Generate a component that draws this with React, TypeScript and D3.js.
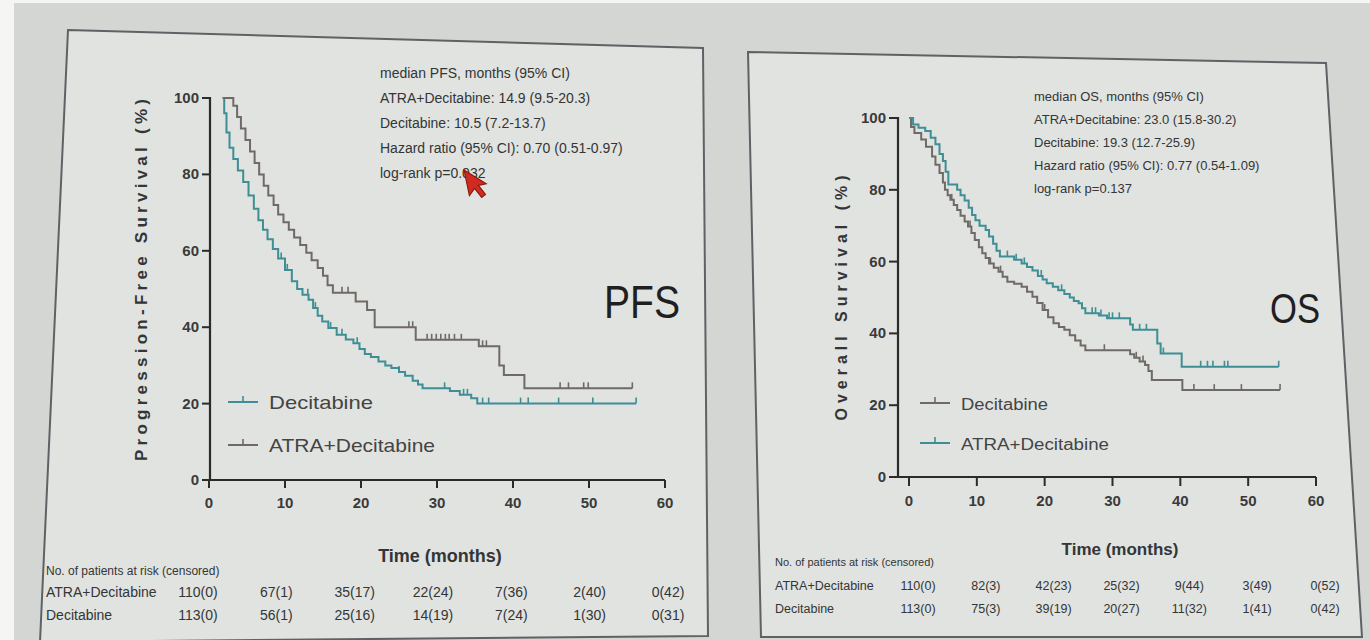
import React from 'react';
import * as d3 from 'd3';

type Step = [number, number];

const FONT = "'Liberation Sans', Arial, Helvetica, sans-serif";
const INK = '#333536';
const TEAL = '#3d8e95';
const GREY = '#6f6a67';

// Shared axis ticks
const timeTicks = [0, 10, 20, 30, 40, 50, 60];
const survTicks = [0, 20, 40, 60, 80, 100];

// ---- Progression-free survival: [month, % progression-free] at each step ----
const pfsAtraSteps: Step[] = [
  [1.8, 100], [3.2, 98], [3.7, 95], [4.2, 92], [4.8, 89], [5.4, 86], [6.0, 83],
  [6.6, 80], [7.2, 77], [7.8, 74.5], [8.5, 72], [9.1, 69.5], [9.8, 67.5],
  [10.5, 65.5], [11.2, 63.5], [12.0, 61.5], [12.8, 59.5], [13.5, 57.5],
  [14.3, 55.5], [15.0, 53.5], [15.6, 51], [16.3, 49], [19.3, 46.7], [20.8, 44.5],
  [21.8, 40], [27.2, 36.7], [35.5, 35], [38.2, 30], [38.8, 27.5], [41.5, 24],
];
const pfsAtraEnd = 55.7;
const pfsAtraCensored = [17.5, 18.3, 26.3, 26.8, 28.7, 29.3, 29.9, 30.5, 31.1, 31.6, 32.3, 33.2, 36.0, 36.5, 46.2, 47.3, 49.3, 49.9, 55.7];

const pfsDecSteps: Step[] = [
  [1.8, 100], [2.0, 96], [2.3, 91], [2.7, 87], [3.2, 84], [3.8, 81], [4.5, 78],
  [5.2, 74.5], [5.9, 71], [6.5, 68], [7.1, 65.5], [7.7, 63], [8.4, 60.5], [9.1, 58],
  [10.0, 55], [10.9, 52], [11.6, 50], [12.3, 48.5], [13.1, 47.2], [13.7, 45],
  [14.3, 43], [14.9, 41.5], [15.7, 39.8], [16.8, 38], [18.0, 36.8], [19.0, 35.8],
  [19.8, 34.3], [20.5, 33], [21.3, 32.2], [22.3, 31], [23.2, 30], [24.0, 29.3],
  [25.0, 28.3], [25.8, 27.3], [26.8, 26], [27.5, 25], [28.1, 24], [31.7, 23.3],
  [33.0, 22.3], [34.5, 21.4], [35.3, 20],
];
const pfsDecEnd = 56.2;
const pfsDecCensored = [9.5, 10.3, 13.0, 14.0, 16.0, 17.5, 19.5, 25.0, 31.0, 33.5, 34.0, 36.0, 36.8, 41.0, 42.0, 46.0, 50.5, 56.2];

// ---- Overall survival: [month, % alive] at each step ----
const osAtraSteps: Step[] = [
  [0, 100], [0.6, 98.2], [1.4, 97.3], [2.4, 96.4], [3.2, 94.5], [3.9, 92.7],
  [4.5, 90], [5.0, 88], [5.4, 85], [5.8, 81.5], [7.1, 80], [7.6, 78.5], [8.2, 77],
  [8.8, 75], [9.3, 73], [9.8, 71.5], [10.4, 70], [11.3, 68.8], [11.8, 67],
  [12.4, 65], [12.9, 63], [13.4, 61.4], [15.5, 60.5], [16.6, 59.5], [17.4, 58.5],
  [18.2, 57.5], [19.0, 56], [19.7, 55], [20.3, 54], [21.2, 53], [22.0, 52],
  [22.9, 51], [23.7, 50], [24.3, 49], [25.0, 48.4], [25.5, 47], [26.0, 45.6],
  [28.0, 45], [29.2, 44.2], [32.6, 42.5], [33.0, 41], [36.6, 37.2], [37.1, 34.4],
  [40.2, 30.7],
];
const osAtraEnd = 54.5;
const osAtraCensored = [14.5, 15.8, 17.0, 19.5, 22.5, 27.0, 27.5, 28.3, 29.5, 30.0, 31.0, 34.0, 35.0, 37.5, 43.0, 44.0, 44.8, 46.5, 47.0, 54.5];

const osDecSteps: Step[] = [
  [0, 100], [0.3, 97.5], [0.8, 95.8], [1.8, 94], [2.5, 92], [3.4, 89.3], [3.9, 87],
  [4.5, 84.7], [5.0, 82], [5.3, 80], [5.7, 78.5], [6.1, 77.2], [6.6, 75.8],
  [7.1, 74.4], [7.6, 72.8], [8.2, 71.2], [8.7, 69.8], [9.2, 68], [9.7, 66],
  [10.3, 64], [10.8, 62.3], [11.3, 61], [11.8, 59.5], [12.5, 58.3], [13.2, 57.2],
  [13.8, 55.8], [14.5, 54.4], [15.5, 53.8], [16.6, 53], [17.4, 51.6], [18.2, 50.2],
  [18.9, 48.5], [19.7, 46.5], [20.5, 44.5], [21.3, 42.8], [22.1, 41.8], [22.9, 41],
  [23.7, 39.5], [24.5, 38], [25.3, 36.6], [26.0, 35.3], [32.6, 34.2], [33.2, 33.2],
  [34.0, 32.2], [34.8, 31.2], [35.3, 29.5], [35.8, 27], [40.3, 24.2],
];
const osDecEnd = 54.7;
const osDecCensored = [6.3, 9.0, 12.0, 13.5, 20.0, 28.8, 33.5, 34.5, 42.0, 45.0, 49.0, 54.7];

// ---- Annotations ----
const pfsNotes = [
  'median PFS, months (95% CI)',
  'ATRA+Decitabine: 14.9 (9.5-20.3)',
  'Decitabine: 10.5 (7.2-13.7)',
  'Hazard ratio (95% CI): 0.70 (0.51-0.97)',
  'log-rank p=0.032',
];
const osNotes = [
  'median OS, months (95% CI)',
  'ATRA+Decitabine: 23.0 (15.8-30.2)',
  'Decitabine: 19.3 (12.7-25.9)',
  'Hazard ratio (95% CI): 0.77 (0.54-1.09)',
  'log-rank p=0.137',
];

// ---- Numbers at risk (censored) at 0, 10, ... 60 months ----
const riskTitle = 'No. of patients at risk (censored)';
const pfsRiskAtra = ['110(0)', '67(1)', '35(17)', '22(24)', '7(36)', '2(40)', '0(42)'];
const pfsRiskDec = ['113(0)', '56(1)', '25(16)', '14(19)', '7(24)', '1(30)', '0(31)'];
const osRiskAtra = ['110(0)', '82(3)', '42(23)', '25(32)', '9(44)', '3(49)', '0(52)'];
const osRiskDec = ['113(0)', '75(3)', '39(19)', '20(27)', '11(32)', '1(41)', '0(42)'];

const ATRA = 'ATRA+Decitabine';
const DEC = 'Decitabine';

function levelAt(steps: Step[], t: number): number {
  let v = steps[0][1];
  for (const [st, sv] of steps) {
    if (st <= t) v = sv;
    else break;
  }
  return v;
}

type Curve = { steps: Step[]; end: number; censored: number[]; color: string };

function KMCurve({ c, x, y }: { c: Curve; x: d3.ScaleLinear<number, number>; y: d3.ScaleLinear<number, number> }) {
  const pts: Step[] = [...c.steps, [c.end, c.steps[c.steps.length - 1][1]]];
  const line = d3
    .line<Step>()
    .x((d) => x(d[0]))
    .y((d) => y(d[1]))
    .curve(d3.curveStepAfter);
  return (
    <g>
      <path d={line(pts) || ''} fill="none" stroke={c.color} strokeWidth={2} />
      {c.censored.map((t, i) => {
        const yy = y(levelAt(c.steps, t));
        return <line key={i} x1={x(t)} x2={x(t)} y1={yy} y2={yy - 6} stroke={c.color} strokeWidth={1.6} />;
      })}
    </g>
  );
}

type Txt = {
  x: number; y: number; size: number; children: React.ReactNode; anchor?: string;
  weight?: number; len?: number; adjust?: string; fill?: string; rotate?: number;
};
function T({ x, y, size, children, anchor = 'start', weight = 400, len, adjust = 'spacingAndGlyphs', fill = INK, rotate }: Txt) {
  return (
    <text
      x={x}
      y={y}
      fontSize={size}
      fontFamily={FONT}
      fontWeight={weight}
      fill={fill}
      textAnchor={anchor as any}
      textLength={len}
      lengthAdjust={len ? (adjust as any) : undefined}
      transform={rotate ? `rotate(${rotate} ${x} ${y})` : undefined}
    >
      {children}
    </text>
  );
}

type PanelCfg = {
  border: [number, number][];
  x: d3.ScaleLinear<number, number>;
  y: d3.ScaleLinear<number, number>;
  yAxisX: number;
  tickSize: number;
  yTitle: string; yTitleX: number; yTitleY: number; yTitleLen: number; yTitleSize: number;
  xTitleX: number; xTitleY: number; xTitleSize: number;
  notes: string[]; notesX: number; notesY: number; notesGap: number; notesSize: number;
  big: string; bigX: number; bigY: number; bigSize: number; bigLen: number;
  legendX: number; legendY: number[]; legendSize: number; legendNames: string[]; legendColors: string[]; legendLens: number[];
  curves: Curve[];
  risk: d3.ScaleLinear<number, number>;
  riskLabelX: number; riskY: number[]; riskSize: number; riskTitleSize: number;
  riskRows: string[][]; riskNames: string[];
};

function Panel({ p }: { p: PanelCfg }) {
  const { x, y } = p;
  const x0 = y(0);
  return (
    <g>
      <polygon points={p.border.map((d) => d.join(',')).join(' ')} fill="#e1e3e0" stroke="#5f6265" strokeWidth={2} />
      {/* axes */}
      <line x1={p.yAxisX} x2={p.yAxisX} y1={y(100) - 1} y2={x0} stroke="#2b2b2b" strokeWidth={2.2} />
      <line x1={p.yAxisX} x2={x(60)} y1={x0} y2={x0} stroke="#2b2b2b" strokeWidth={2.2} />
      {survTicks.map((s) => (
        <g key={'y' + s}>
          <line x1={p.yAxisX - p.tickSize} x2={p.yAxisX} y1={y(s)} y2={y(s)} stroke="#2b2b2b" strokeWidth={2} />
          <T x={p.yAxisX - p.tickSize - 3} y={y(s) + 5} size={15} anchor="end" weight={700} fill="#3a3a3a">{s}</T>
        </g>
      ))}
      {timeTicks.map((t) => (
        <g key={'x' + t}>
          <line x1={x(t)} x2={x(t)} y1={x0} y2={x0 + p.tickSize} stroke="#2b2b2b" strokeWidth={2} />
          <T x={x(t)} y={x0 + p.tickSize + 20} size={15} anchor="middle" weight={700} fill="#3a3a3a">{t}</T>
        </g>
      ))}
      <T x={p.yTitleX} y={p.yTitleY} size={p.yTitleSize} anchor="middle" weight={700} rotate={-90} len={p.yTitleLen} adjust="spacing">
        {p.yTitle}
      </T>
      <T x={p.xTitleX} y={p.xTitleY} size={p.xTitleSize} anchor="middle" weight={700}>Time (months)</T>

      {p.curves.map((c, i) => (
        <KMCurve key={i} c={c} x={x} y={y} />
      ))}

      {p.notes.map((n, i) => (
        <T key={n} x={p.notesX} y={p.notesY + i * p.notesGap} size={p.notesSize}>{n}</T>
      ))}
      <T x={p.bigX} y={p.bigY} size={p.bigSize} len={p.bigLen} fill="#1f1f1f">{p.big}</T>

      {p.legendNames.map((n, i) => (
        <g key={n}>
          <line x1={p.legendX} x2={p.legendX + 30} y1={p.legendY[i]} y2={p.legendY[i]} stroke={p.legendColors[i]} strokeWidth={2} />
          <line x1={p.legendX + 15} x2={p.legendX + 15} y1={p.legendY[i]} y2={p.legendY[i] - 6} stroke={p.legendColors[i]} strokeWidth={1.6} />
          <T x={p.legendX + 41} y={p.legendY[i] + 7} size={p.legendSize} len={p.legendLens[i]} fill="#444">{n}</T>
        </g>
      ))}

      <T x={p.riskLabelX} y={p.riskY[0]} size={p.riskTitleSize}>{riskTitle}</T>
      {p.riskRows.map((row, r) => (
        <g key={r}>
          <T x={p.riskLabelX} y={p.riskY[r + 1]} size={p.riskSize}>{p.riskNames[r]}</T>
          {row.map((v, i) => (
            <T key={i} x={p.risk(timeTicks[i])} y={p.riskY[r + 1]} size={p.riskSize} anchor="middle">{v}</T>
          ))}
        </g>
      ))}
    </g>
  );
}

export default function App() {
  const pfs: PanelCfg = {
    border: [[68, 30], [703, 48], [708, 636], [40, 642]],
    x: d3.scaleLinear().domain([0, 60]).range([209, 665]),
    y: d3.scaleLinear().domain([0, 100]).range([480, 98]),
    yAxisX: 210,
    tickSize: 8,
    yTitle: 'Progression-Free Survival (%)', yTitleX: 147, yTitleY: 280, yTitleLen: 362, yTitleSize: 17,
    xTitleX: 440, xTitleY: 562, xTitleSize: 18,
    notes: pfsNotes, notesX: 380, notesY: 78, notesGap: 25, notesSize: 14,
    big: 'PFS', bigX: 604, bigY: 318, bigSize: 46, bigLen: 76,
    legendX: 228, legendY: [402, 445], legendSize: 19, legendNames: [DEC, ATRA], legendColors: [TEAL, GREY], legendLens: [104, 166],
    curves: [
      { steps: pfsDecSteps, end: pfsDecEnd, censored: pfsDecCensored, color: TEAL },
      { steps: pfsAtraSteps, end: pfsAtraEnd, censored: pfsAtraCensored, color: GREY },
    ],
    risk: d3.scaleLinear().domain([0, 60]).range([198, 668]),
    riskLabelX: 46, riskY: [575, 597, 620], riskSize: 14, riskTitleSize: 12,
    riskRows: [pfsRiskAtra, pfsRiskDec], riskNames: [ATRA, DEC],
  };

  const os: PanelCfg = {
    border: [[748, 52], [1326, 63], [1362, 637], [761, 637]],
    x: d3.scaleLinear().domain([0, 60]).range([909, 1316]),
    y: d3.scaleLinear().domain([0, 100]).range([477, 118]),
    yAxisX: 898,
    tickSize: 9,
    yTitle: 'Overall  Survival (%)', yTitleX: 847, yTitleY: 298, yTitleLen: 245, yTitleSize: 16,
    xTitleX: 1120, xTitleY: 555, xTitleSize: 17,
    notes: osNotes, notesX: 1034, notesY: 101, notesGap: 23, notesSize: 13,
    big: 'OS', bigX: 1270, bigY: 323, bigSize: 42, bigLen: 50,
    legendX: 920, legendY: [403, 443], legendSize: 16, legendNames: [DEC, ATRA], legendColors: [GREY, TEAL], legendLens: [87, 148],
    curves: [
      { steps: osDecSteps, end: osDecEnd, censored: osDecCensored, color: GREY },
      { steps: osAtraSteps, end: osAtraEnd, censored: osAtraCensored, color: TEAL },
    ],
    risk: d3.scaleLinear().domain([0, 60]).range([918, 1325]),
    riskLabelX: 775, riskY: [566, 590, 613], riskSize: 12.5, riskTitleSize: 11,
    riskRows: [osRiskAtra, osRiskDec], riskNames: [ATRA, DEC],
  };

  return (
    <svg width={1370} height={640} style={{ position: 'absolute', left: 0, top: 0 }}>
      <rect x={0} y={0} width={1370} height={640} fill="#f5f5f4" />
      <rect x={14} y={3} width={1356} height={637} fill="#d4d6d3" />
      <Panel p={pfs} />
      <Panel p={os} />
      {/* presenter's pointer resting on the p-value */}
      <path
        d="M0 0 L0 18 L4.5 14 L8 21 L11 19.5 L7.5 12.5 L13 12.5 Z"
        transform="translate(464 170) rotate(-12) scale(1.45)"
        fill="#d12a1e"
        stroke="#8c1710"
        strokeWidth={0.8}
      />
    </svg>
  );
}
